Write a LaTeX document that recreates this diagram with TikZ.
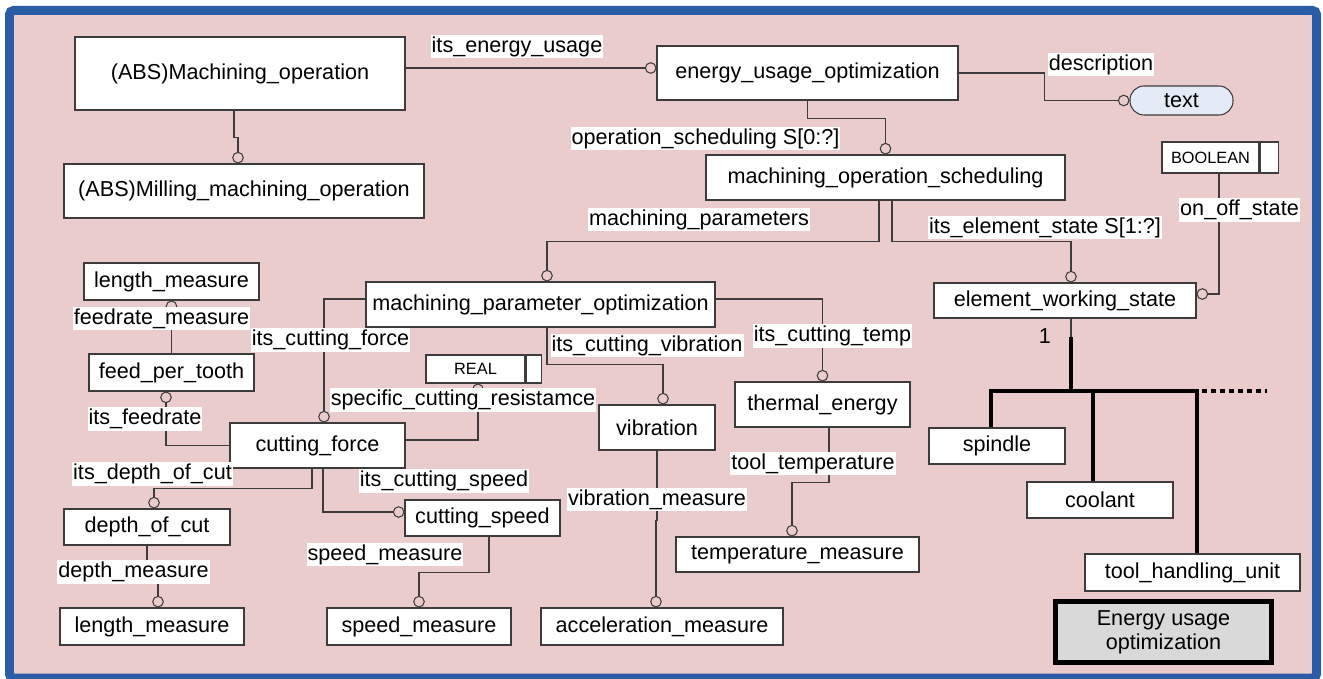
\documentclass[tikz,border=0pt]{standalone}
\usepackage{fontspec}
\setmainfont{Liberation Sans}
\usetikzlibrary{arrows.meta,positioning,calc}

\definecolor{bgpink}{RGB}{234,204,204}
\definecolor{framebl}{RGB}{42,93,166}
\definecolor{linegr}{RGB}{60,60,60}
\definecolor{pillbl}{RGB}{228,234,246}
\definecolor{legendgr}{RGB}{217,217,217}

\begin{document}
\begin{tikzpicture}[
  x=0.02cm, y=-0.02cm,
  sz/.style 2 args={minimum width=#1*0.02cm, minimum height=#2*0.02cm},
  ent/.style={draw=linegr, fill=white, line width=0.6pt, inner sep=0pt,
              font=\fontsize{12.3}{14}\selectfont},
  dtype/.style={ent, font=\fontsize{9.3}{11}\selectfont},
  pill/.style={ent, fill=pillbl, rounded corners=0.28cm},
  legend/.style={ent, draw=black, line width=2.8pt, fill=legendgr, align=center,
                 font=\fontsize{12.3}{13.7}\selectfont},
  rel/.style={draw=linegr, line width=0.6pt},
  ocirc/.style={-{Circle[open, length=6.6pt, width=6.6pt]}},
  bus/.style={draw=black, line width=2.3pt},
  lbl/.style={fill=white, inner xsep=0.02cm, inner ysep=0.02cm, text height=9.5pt,
              text depth=2.7pt, font=\fontsize{12.3}{14}\selectfont}
]
  \useasboundingbox (0,0) rectangle (1323,679);
  \fill[white] (0,0) rectangle (1323,679);
  \draw[draw=framebl, fill=bgpink, line width=0.18cm, rounded corners=0.08cm]
    (9.5,10.5) rectangle (1316.5,678);

  % entities
  \node[ent, sz={330}{73}] (machop)  at (240,73.5)   {(ABS)Machining\_operation};
  \node[ent, sz={360}{54}] (millop)  at (244,191)    {(ABS)Milling\_machining\_operation};
  \node[ent, sz={301}{54}] (euopt)   at (807.5,73)   {energy\_usage\_optimization};
  \node[pill, sz={103}{29}] (txt)    at (1181.5,100.5) {text};
  \node[ent, sz={359}{45}] (mosched) at (885.5,177.5) {machining\_operation\_scheduling};
  \node[dtype, sz={97}{31}] (boolean) at (1210.5,157.5) {BOOLEAN};
  \node[dtype, sz={18}{31}, right=0pt of boolean] (boolcap) {};
  \node[ent, sz={262}{35}] (ews)     at (1065,300.5) {element\_working\_state};
  \node[ent, sz={349}{45}] (mpo)     at (540.5,304.5) {machining\_parameter\_optimization};
  \node[ent, sz={175}{37}] (lenmA)   at (171.5,281.5) {length\_measure};
  \node[ent, sz={165}{37}] (fpt)     at (171.5,372.5) {feed\_per\_tooth};
  \node[ent, sz={175}{45}] (cforce)  at (317.5,445.5) {cutting\_force};
  \node[dtype, sz={99}{28}] (real)   at (475.5,369)  {REAL};
  \node[dtype, sz={15}{28}, right=0pt of real] (realcap) {};
  \node[ent, sz={116}{45}] (vib)     at (657,427.5)  {vibration};
  \node[ent, sz={175}{45}] (therm)   at (822.5,404.5) {thermal\_energy};
  \node[ent, sz={166}{36}] (doc)     at (147,527)    {depth\_of\_cut};
  \node[ent, sz={184}{37}] (lenmB)   at (152,626.5)  {length\_measure};
  \node[ent, sz={155}{36}] (cspeed)  at (482.5,518)  {cutting\_speed};
  \node[ent, sz={184}{37}] (spm)     at (419,626.5)  {speed\_measure};
  \node[ent, sz={242}{37}] (accm)    at (662,626.5)  {acceleration\_measure};
  \node[ent, sz={243}{35}] (tempm)   at (797.5,554.5) {temperature\_measure};
  \node[ent, sz={136}{36}] (spindle) at (997,446)    {spindle};
  \node[ent, sz={146}{36}] (coolant) at (1100,500)   {coolant};
  \node[ent, sz={215}{37}] (thu)     at (1192.5,572.5) {tool\_handling\_unit};
  \node[legend, sz={216}{61}] (key)  at (1163.5,632) {Energy usage\\optimization};

  % relations
  \draw[rel, ocirc] ($(machop.south)+(-6,0)$) -- ++(0,27) -| ($(millop.north)+(-6,0)$);
  \draw[rel, ocirc] ($(machop.east)+(0,-5.5)$) -- ($(euopt.west)+(0,-5)$);
  \draw[rel, ocirc] (euopt.south) -- ++(0,18) -| (mosched.north);
  \draw[rel, ocirc] (euopt.east) -- ++(86,0) |- (txt.west);
  \draw[rel, ocirc] ($(mosched.south)+(-6.5,0)$) -- ++(0,41) -| ($(mpo.north)+(6.5,0)$);
  \draw[rel, ocirc] ($(mosched.south)+(6.5,0)$) -- ++(0,41) -| ($(ews.north)+(6,0)$);
  \draw[rel, ocirc] ($(boolean.south)+(8.5,0)$) |- ($(ews.east)+(0,-6.5)$);
  \draw[rel, ocirc] ($(mpo.west)+(0,-5.5)$) -| ($(cforce.north)+(6.5,0)$);
  \draw[rel, ocirc] ($(mpo.south)+(6.5,0)$) -- ++(0,37) -| ($(vib.north)+(6,0)$);
  \draw[rel, ocirc] ($(mpo.east)+(0,-5.5)$) -| (therm.north);
  \draw[rel, ocirc] ($(cforce.east)+(0,-5.5)$) -| ($(real.south)+(2.5,0)$);
  \draw[rel, ocirc] (cforce.west) -| ($(fpt.south)+(-5.5,0)$);
  \draw[rel, ocirc] (fpt.north) -- (lenmA.south);
  \draw[rel, ocirc] ($(cforce.south)+(-5.5,0)$) -- ++(0,20) -| ($(doc.north)+(7,0)$);
  \draw[rel, ocirc] ($(cforce.south)+(5.5,0)$) |- ($(cspeed.west)+(0,-6)$);
  \draw[rel, ocirc] (doc.south) -- ++(0,27) -| ($(lenmB.north)+(6,0)$);
  \draw[rel, ocirc] ($(cspeed.south)+(6.5,0)$) -- ++(0,36) -| (spm.north);
  \draw[rel, ocirc] (vib.south) -- ++(0,70) -| ($(accm.north)+(-6,0)$);
  \draw[rel, ocirc] ($(therm.south)+(6.5,0)$) -- ++(0,55) -| ($(tempm.north)+(-5.5,0)$);

  % subtype tree
  \coordinate (junc) at ($(ews.south)+(6,72)$);
  \draw[rel] ($(ews.south)+(6,0)$) -- ++(0,20);
  \draw[bus] ($(ews.south)+(6,18)$) -- (junc);
  \draw[bus] ($(spindle.north)+(-6,0)$) |- (junc) -| ($(thu.north)+(4.5,0)$);
  \draw[bus] ($(coolant.north)+(-7,0)$) |- (junc);
  \draw[bus, dash pattern=on 0.1cm off 0.08cm] ($(junc)+(131,0)$) -- ++(65,0);
  \node[font=\fontsize{12.3}{14}\selectfont] (card) at (1045,336) {1};

  % role labels
  \node[lbl] (lblusage)  at (517,46.5)    {its\_energy\_usage};
  \node[lbl] (lblsched)  at (705.5,138.5) {operation\_scheduling S[0:?]};
  \node[lbl] (lbldesc)   at (1101,64.5)   {description};
  \node[lbl] (lblparam)  at (699,219.5)   {machining\_parameters};
  \node[lbl] (lblstate)  at (1045,227.5)  {its\_element\_state S[1:?]};
  \node[lbl] (lblonoff)  at (1239.5,210)  {on\_off\_state};
  \node[lbl] (lblforce)  at (330.5,340)   {its\_cutting\_force};
  \node[lbl] (lblvib)    at (647,345.5)   {its\_cutting\_vibration};
  \node[lbl] (lbltemp)   at (832.5,336)   {its\_cutting\_temp};
  \node[lbl] (lblresist) at (463,400)     {specific\_cutting\_resistamce};
  \node[lbl] (lblfeedm)  at (161.5,318.5) {feedrate\_measure};
  \node[lbl] (lblfeed)   at (145,419)     {its\_feedrate};
  \node[lbl] (lbldepth)  at (152.5,474)   {its\_depth\_of\_cut};
  \node[lbl] (lblspeed)  at (444,481)     {its\_cutting\_speed};
  \node[lbl] (lbldepthm) at (133.5,572)   {depth\_measure};
  \node[lbl] (lblspeedm) at (385,554.5)   {speed\_measure};
  \node[lbl] (lblvibm)   at (657,499.5)   {vibration\_measure};
  \node[lbl] (lbltool)   at (813,463.5)   {tool\_temperature};
\end{tikzpicture}
\end{document}
